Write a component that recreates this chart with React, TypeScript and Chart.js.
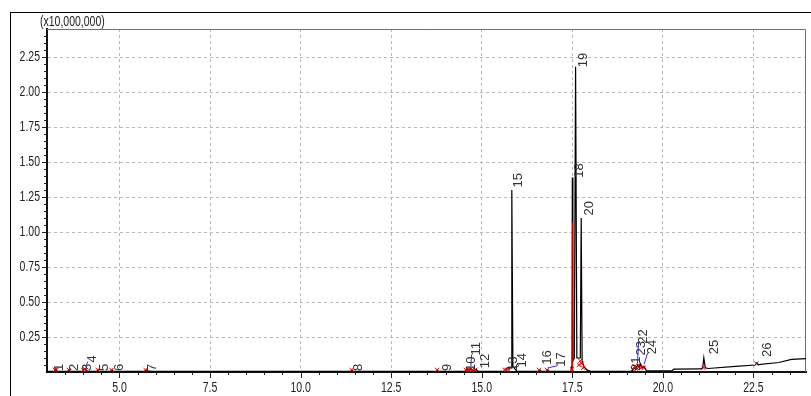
import React, { useEffect, useRef } from 'react';
import { Chart, registerables } from 'chart.js';

Chart.register(...registerables);

// ---- Data (retention time in min, intensity in units of 10,000,000) ----
const traceTimes = [
  3.0, 3.2, 3.24, 3.28, 3.58, 3.61, 3.64, 3.98, 4.02, 4.07, 4.11, 4.38, 4.41, 4.44,
  4.77, 4.8, 4.83, 5.7, 5.74, 5.8, 5.9, 11.38, 11.42, 11.46, 13.75, 13.78, 13.81,
  14.55, 14.59, 14.65, 14.7, 14.76, 14.84, 14.9, 15.66, 15.7, 15.81, 15.83, 15.86,
  15.92, 15.97, 16.57, 16.6, 16.64, 16.79, 16.82, 16.86, 17.46, 17.49, 17.5, 17.515,
  17.555, 17.59, 17.625, 17.72, 17.745, 17.77, 17.82, 17.9, 18.0, 19.15, 19.2, 19.25,
  19.3, 19.35, 19.38, 19.44, 19.48, 19.55, 20.0, 20.25, 20.3, 21.05, 21.1, 21.13,
  21.17, 21.25, 22.0, 22.55, 22.59, 22.63, 23.2, 23.55, 23.95,
];
const traceValues = [
  0.005, 0.005, 0.015, 0.005, 0.005, 0.015, 0.005, 0.006, 0.02, 0.025, 0.006, 0.005, 0.015, 0.005,
  0.005, 0.015, 0.005, 0.005, 0.015, 0.006, 0.004, 0.004, 0.012, 0.004, 0.004, 0.01, 0.004,
  0.005, 0.02, 0.01, 0.025, 0.01, 0.02, 0.005, 0.005, 0.03, 0.03, 1.3, 0.04,
  0.02, 0.006, 0.005, 0.015, 0.005, 0.005, 0.015, 0.005, 0.006, 0.05, 1.39, 0.08,
  0.1, 2.18, 0.1, 0.1, 1.1, 0.08, 0.04, 0.015, 0.005, 0.005, 0.03, 0.02,
  0.05, 0.03, 0.06, 0.03, 0.04, 0.008, 0.008, 0.01, 0.02, 0.022, 0.03, 0.1,
  0.03, 0.025, 0.04, 0.05, 0.065, 0.052, 0.068, 0.09, 0.095,
];

const peakNumbers = ['1','2','3','4','5','6','7','8','9','10','11','12','13','14','15','16','17','18','19','20','21','22','23','24','25','26'];
const peakTimes = [3.24, 3.61, 4.02, 4.07, 4.41, 4.8, 5.74, 11.42, 13.78, 14.59, 14.7, 14.84, 15.7, 15.92, 15.83, 16.6, 16.82, 17.5, 17.59, 17.745, 19.2, 19.3, 19.38, 19.48, 21.13, 22.59];
const peakHeights = [0.015, 0.015, 0.02, 0.025, 0.015, 0.015, 0.015, 0.012, 0.01, 0.02, 0.025, 0.02, 0.03, 0.02, 1.3, 0.015, 0.015, 1.39, 2.18, 1.1, 0.03, 0.05, 0.03, 0.04, 0.1, 0.065];
const labelTimes = [3.3, 3.71, 4.07, 4.21, 4.54, 4.95, 5.88, 11.56, 14.0, 14.66, 14.8, 15.07, 15.84, 16.09, 15.98, 16.78, 17.16, 17.65, 17.76, 17.92, 19.22, 19.41, 19.36, 19.66, 21.38, 22.84];
const labelLevels = [0, 0, 0, 0.06, 0, 0, 0, 0, 0, 0, 0.11, 0.02, 0, 0.025, 1.31, 0.045, 0.03, 1.38, 2.17, 1.11, 0, 0.195, 0.11, 0.12, 0.12, 0.1];
const leaderPeaks = ['4', '11', '14', '17', '22', '24'];

// integration markers (red)
const markerTimes = [3.22, 3.26, 3.6, 4.0, 4.04, 4.08, 4.4, 4.78, 5.72, 11.41, 13.77, 14.56, 14.62, 14.68, 14.74, 14.82, 15.63, 15.68, 15.74, 16.58, 16.8, 17.49, 17.68, 17.72, 17.76, 17.8, 19.17, 19.22, 19.27, 19.33, 19.4, 19.47, 21.12, 22.58];
const markerValues = [0.015, 0.015, 0.015, 0.015, 0.02, 0.015, 0.015, 0.015, 0.015, 0.015, 0.015, 0.015, 0.015, 0.015, 0.015, 0.015, 0.015, 0.015, 0.015, 0.015, 0.015, 0.02, 0.05, 0.08, 0.06, 0.03, 0.02, 0.04, 0.02, 0.05, 0.03, 0.03, 0.03, 0.06];
const redLineTimes = [17.51, 17.51];
const redLineValues = [0, 1.07];

const xTickValues = [5.0, 7.5, 10.0, 12.5, 15.0, 17.5, 20.0, 22.5];
const yTickValues = [0.25, 0.5, 0.75, 1.0, 1.25, 1.5, 1.75, 2.0, 2.25];
const yScaleLabel = '(x10,000,000)';

const FONT = '"Liberation Sans", Arial, sans-serif';
const NARROW = 0.75;

function narrowText(ctx: any, text: string, x: number, y: number, align: string) {
  ctx.save();
  ctx.translate(x, y);
  ctx.scale(NARROW, 1);
  ctx.textAlign = align;
  ctx.fillText(text, 0, 0);
  ctx.restore();
}

const decor = {
  id: 'decor',
  beforeDatasetsDraw(chart: any) {
    const { ctx, chartArea: a } = chart;
    ctx.save();
    ctx.strokeStyle = '#6e6e6e';
    ctx.lineWidth = 1;
    ctx.beginPath();
    ctx.moveTo(a.left, a.top + 0.5);
    ctx.lineTo(a.right - 0.5, a.top + 0.5);
    ctx.lineTo(a.right - 0.5, a.bottom);
    ctx.stroke();
    ctx.restore();
  },
  afterDraw(chart: any) {
    const { ctx, chartArea: a, scales } = chart;
    const xs = scales.x;
    const ys = scales.y;
    ctx.save();
    // tick marks
    ctx.strokeStyle = '#222';
    ctx.lineWidth = 1;
    ctx.beginPath();
    for (let v = 3.5; v <= 23.9; v += 0.5) {
      const major = Math.abs(v / 2.5 - Math.round(v / 2.5)) < 1e-6;
      const px = Math.round(xs.getPixelForValue(v)) + 0.5;
      ctx.moveTo(px, a.bottom);
      ctx.lineTo(px, a.bottom + (major ? 6 : 3));
    }
    for (let i = 1; i <= 48; i++) {
      const v = i * 0.05;
      const major = i % 5 === 0;
      const py = Math.round(ys.getPixelForValue(v)) + 0.5;
      ctx.moveTo(a.left, py);
      ctx.lineTo(a.left - (major ? 5 : 3), py);
    }
    ctx.stroke();

    // axis tick labels
    ctx.fillStyle = '#222';
    ctx.font = `14px ${FONT}`;
    ctx.textBaseline = 'middle';
    xTickValues.forEach((v) => {
      narrowText(ctx, v.toFixed(1), xs.getPixelForValue(v), a.bottom + 16, 'center');
    });
    yTickValues.forEach((v) => {
      narrowText(ctx, v.toFixed(2), a.left - 7, ys.getPixelForValue(v), 'right');
    });

    // scale factor label
    narrowText(ctx, yScaleLabel, 40, 22, 'left');

    // leader lines
    ctx.strokeStyle = '#2a2ae0';
    ctx.lineWidth = 1;
    peakNumbers.forEach((n, i) => {
      if (!leaderPeaks.includes(n)) return;
      const px = xs.getPixelForValue(peakTimes[i]);
      const py = ys.getPixelForValue(peakHeights[i]) - 2;
      const lx = xs.getPixelForValue(labelTimes[i]) - 3;
      const ly = ys.getPixelForValue(labelLevels[i]) - 2;
      ctx.beginPath();
      ctx.moveTo(px, py);
      ctx.lineTo(lx, ly);
      ctx.stroke();
    });

    // peak labels
    ctx.fillStyle = '#333';
    ctx.font = `13px ${FONT}`;
    ctx.textAlign = 'left';
    ctx.textBaseline = 'middle';
    peakNumbers.forEach((n, i) => {
      const lx = xs.getPixelForValue(labelTimes[i]) + 1.5;
      const ly = ys.getPixelForValue(labelLevels[i]) - 1;
      ctx.save();
      ctx.translate(lx, ly);
      ctx.rotate(-Math.PI / 2);
      ctx.fillText(n, 0, 0);
      ctx.restore();
    });
    ctx.restore();
  },
};

export default function App() {
  const ref = useRef<HTMLCanvasElement | null>(null);

  useEffect(() => {
    if (!ref.current) return;
    const chart = new Chart(ref.current, {
      type: 'scatter',
      data: {
        datasets: [
          {
            label: 'TIC',
            data: traceTimes.map((t, i) => ({ x: t, y: traceValues[i] })),
            showLine: true,
            borderColor: '#000',
            borderWidth: 1.2,
            pointRadius: 0,
            tension: 0,
            order: 3,
          },
          {
            label: 'integration',
            data: redLineTimes.map((t, i) => ({ x: t, y: redLineValues[i] })),
            showLine: true,
            borderColor: '#e00000',
            borderWidth: 1,
            pointRadius: 0,
            order: 2,
          },
          {
            label: 'markers',
            data: markerTimes.map((t, i) => ({ x: t, y: markerValues[i] })),
            showLine: false,
            pointStyle: 'crossRot',
            pointRadius: 3,
            borderColor: '#e00000',
            backgroundColor: '#e00000',
            borderWidth: 1,
            order: 1,
          },
        ],
      },
      options: {
        animation: false,
        responsive: false,
        devicePixelRatio: 1,
        events: [],
        layout: { padding: { top: 29, right: 1, left: 0, bottom: 0 } },
        plugins: { legend: { display: false }, tooltip: { enabled: false } },
        scales: {
          x: {
            type: 'linear',
            min: 3.0,
            max: 23.95,
            afterBuildTicks: (s: any) => {
              s.ticks = xTickValues.map((v) => ({ value: v }));
            },
            afterFit: (s: any) => {
              s.height = 24;
            },
            ticks: { display: false, autoSkip: false },
            grid: { color: '#b8b8b8', drawTicks: false, lineWidth: 1 },
            border: { display: true, color: '#111', width: 2, dash: [3, 3] },
          },
          y: {
            type: 'linear',
            min: 0,
            max: 2.45,
            afterBuildTicks: (s: any) => {
              s.ticks = yTickValues.map((v) => ({ value: v }));
            },
            afterFit: (s: any) => {
              s.width = 47;
            },
            ticks: { display: false, autoSkip: false },
            grid: { color: '#b8b8b8', drawTicks: false, lineWidth: 1 },
            border: { display: true, color: '#111', width: 2, dash: [3, 3] },
          },
        },
      },
      plugins: [decor],
    });
    return () => chart.destroy();
  }, []);

  return (
    <div style={{ position: 'fixed', left: 0, top: 0, width: 811, height: 396, background: '#fff', overflow: 'hidden' }}>
      <div style={{ position: 'absolute', left: 10, top: 12, width: 900, height: 500, borderLeft: '1px solid #000', borderTop: '1px solid #000' }} />
      <canvas ref={ref} width={811} height={396} style={{ position: 'absolute', left: 0, top: 0, width: 811, height: 396 }} />
    </div>
  );
}
